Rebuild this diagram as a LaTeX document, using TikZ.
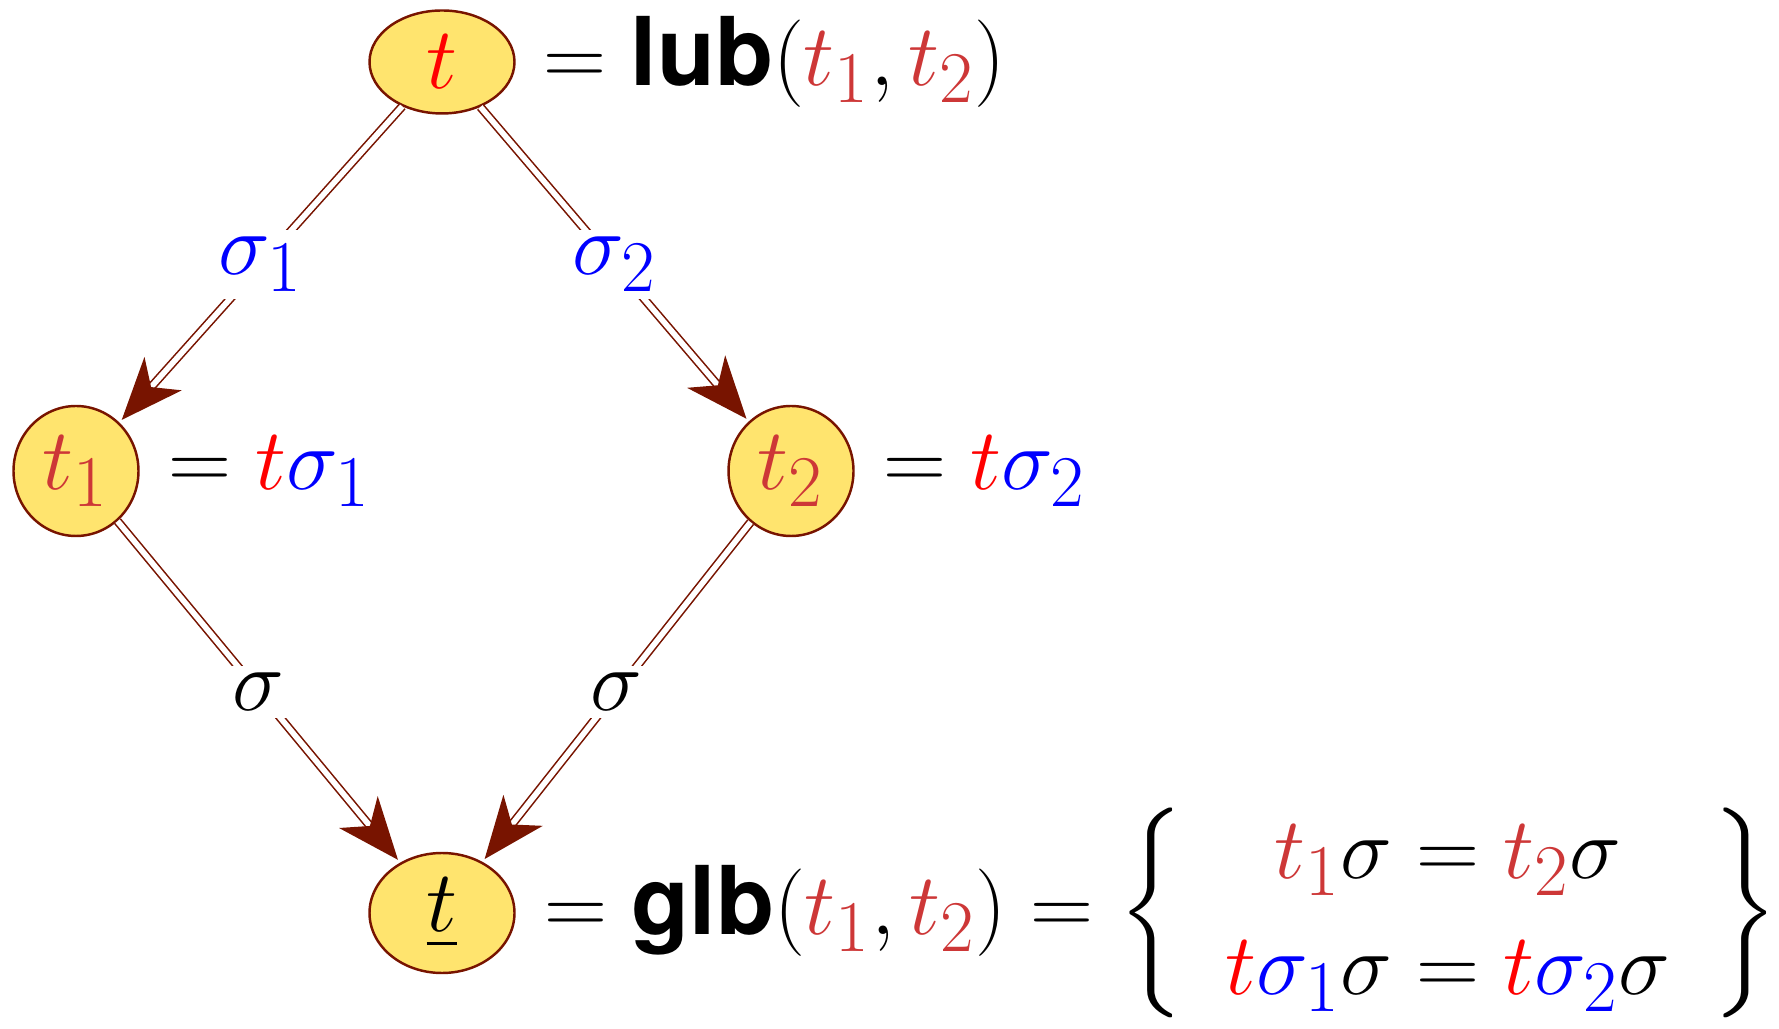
\documentclass[tikz,border=0pt]{standalone}
\usepackage{fontspec}
\newfontfamily\opfont{TeX Gyre Heros}
\usepackage{amsmath}
\usetikzlibrary{arrows.meta,shapes.geometric}
\DeclareMathSizes{27}{27}{20.5}{15}
\definecolor{TermFill}{RGB}{255,228,110}
\definecolor{TermLine}{RGB}{120,20,0}
\definecolor{SubRed}{RGB}{205,55,55}
\definecolor{SubBlue}{RGB}{0,0,255}
\newcommand{\tred}{{\color{red}t}}
\newcommand{\tone}{{\color{SubRed}t_1}}
\newcommand{\ttwo}{{\color{SubRed}t_2}}
\newcommand{\sone}{{\color{SubBlue}\sigma_1}}
\newcommand{\stwo}{{\color{SubBlue}\sigma_2}}
\newcommand{\op}[1]{\text{\opfont\bfseries #1}}

\begin{document}
\begin{tikzpicture}[
  font=\fontsize{27}{33}\selectfont,
  term/.style={ellipse, draw=TermLine, line width=0.7pt, fill=TermFill, inner sep=0pt},
  subst/.style={draw=TermLine, double, double distance=1.6pt, line width=0.45pt,
    -{Stealth[length=0.62cm, width=0.5cm, inset=0.18cm]}, shorten >=1pt},
  lbl/.style={fill=white, inner sep=2pt},
  eqn/.style={anchor=west, inner sep=0pt}
]
\useasboundingbox (0,0) rectangle (17.79,-10.29);

% terms
\node[term, minimum width=1.45cm, minimum height=1.03cm] (top) at (4.42,-0.62) {$\tred$};
\node[term, minimum width=1.25cm, minimum height=1.3cm] (left) at (0.76,-4.71) {$\tone$};
\node[term, minimum width=1.25cm, minimum height=1.3cm] (right) at (7.91,-4.71) {$\ttwo$};
\node[term, minimum width=1.45cm, minimum height=1.2cm] (bot) at (4.42,-9.13) {$\underline{t}$};

% equations next to the terms
\node[eqn] (toptxt) at ([xshift=0.27cm]top.east) {$= \op{lub}(\tone,\ttwo)$};
\node[eqn] (lefttxt) at ([xshift=0.28cm]left.east) {$= \tred\sone$};
\node[eqn] (righttxt) at ([xshift=0.28cm]right.east) {$= \tred\stwo$};
\node[eqn] (bottxt) at ([xshift=0.28cm]bot.east) {$= \op{glb}(\tone,\ttwo) = \biggl\{\;
  \begin{array}{c}
    \tone\sigma = \ttwo\sigma\\
    \tred\sone\sigma = \tred\stwo\sigma
  \end{array}\;\biggr\}$};

% substitutions
\draw[subst] (top) -- node[lbl] {$\sone$} (left);
\draw[subst] (top) -- node[lbl] {$\stwo$} (right);
\draw[subst] (left) -- node[lbl] {$\sigma$} (bot);
\draw[subst] (right) -- node[lbl] {$\sigma$} (bot);

\end{tikzpicture}
\end{document}
